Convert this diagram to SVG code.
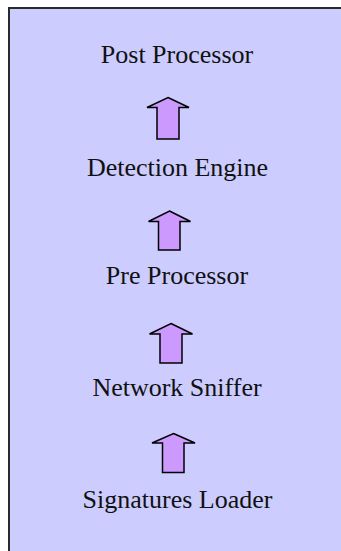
<svg xmlns="http://www.w3.org/2000/svg" width="341" height="551" viewBox="0 0 341 551">
<style>
.lbl{font-family:"Liberation Serif","Times New Roman",serif;font-size:26px;fill:#111;text-anchor:middle}
.arr{fill:#CC99FF;stroke:#000;stroke-width:1.5;stroke-linejoin:miter}
</style>
<rect width="341" height="551" fill="#ffffff"/>
<rect x="9" y="8" width="345" height="560" fill="#CCCCFF" stroke="#2a2a2a" stroke-width="2"/>
<g id="post-processor"><text class="lbl" x="177" y="63">Post Processor</text></g>
<g id="detection-engine"><text class="lbl" x="177.5" y="176">Detection Engine</text></g>
<g id="pre-processor"><text class="lbl" x="177" y="284">Pre Processor</text></g>
<g id="network-sniffer"><text class="lbl" x="177" y="396">Network Sniffer</text></g>
<g id="signatures-loader"><text class="lbl" x="177.5" y="508">Signatures Loader</text></g>
<g id="connectors">
<path class="arr" d="M168 97.5 L189 107.5 L179 107.5 L179 139 L157 139 L157 107.5 L147 107.5 Z"/>
<path class="arr" d="M169.5 211 L190.5 221.5 L180 221.5 L180 250 L158.5 250 L158.5 221.5 L148.5 221.5 Z"/>
<path class="arr" d="M171 323.5 L192.5 334 L182 334 L182 363 L160 363 L160 334 L149.5 334 Z"/>
<path class="arr" d="M173.5 433.5 L195 443 L184 443 L184 472.5 L162.5 472.5 L162.5 443 L152 443 Z"/>
</g>
</svg>
